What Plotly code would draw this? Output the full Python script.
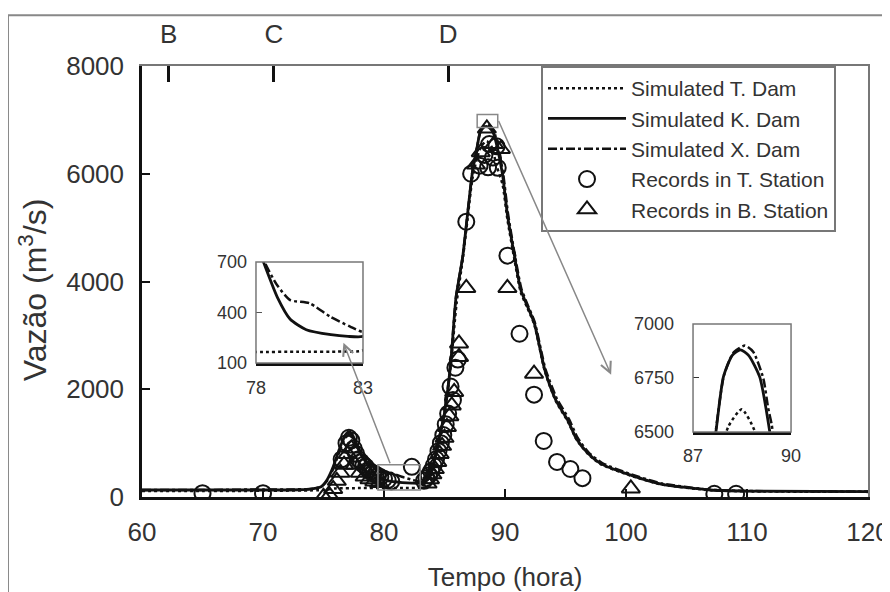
import plotly.graph_objects as go

# ---------------- data ----------------
t_K = [60, 65, 70, 73, 74, 74.8, 75.3, 75.8, 76.3, 76.8, 77.1, 77.4, 77.7, 78.0, 78.35, 79.0, 79.6,
       80.35, 81.5, 82.3, 83.0, 83.5, 83.9, 84.4, 85.0, 85.5, 85.95, 86.5, 86.9, 87.3, 87.7, 87.93,
       88.2, 88.45, 88.7, 89.04, 89.35, 89.8, 90.2, 90.77, 91.3, 91.87, 92.42, 93.3, 94.2, 95.2,
       95.9, 96.85, 97.9, 100.2, 102.9, 107.0, 110.0, 120.0]
q_K = [130, 130, 130, 135, 150, 190, 320, 560, 880, 1150, 1215, 1150, 990, 820, 700, 490, 360,
       298, 268, 258, 258, 300, 440, 930, 1560, 2450, 3700, 4450, 5240, 6020, 6500, 6755,
       6855, 6880, 6855, 6755, 6500, 5980, 5240, 4490, 3850, 3530, 3230, 2350, 1800, 1420,
       1080, 810, 620, 420, 240, 130, 110, 100]

t_X = [60, 65, 70, 72, 74, 74.8, 75.3, 75.8, 76.3, 76.8, 77.2, 77.5, 77.8, 78.1, 78.4, 79.0, 79.6,
       80.5, 81.46, 82.4, 83.0, 83.5, 83.9, 84.4, 85.0, 85.5, 85.95, 86.5, 86.9, 87.3, 87.7, 87.95,
       88.25, 88.59, 88.84, 89.15, 89.3, 89.41, 89.85, 90.25, 90.8, 91.35, 91.9, 92.45, 93.35, 94.3,
       95.3, 96.0, 96.9, 98.0, 100.3, 103.0, 107.0, 110.0, 120.0]
q_X = [130, 130, 140, 140, 150, 190, 300, 520, 830, 1100, 1160, 1100, 960, 820, 700, 560, 474,
       455, 376, 316, 285, 310, 450, 940, 1570, 2460, 3710, 4460, 5250, 6030, 6510, 6765,
       6870, 6900, 6872, 6749, 6610, 6532, 6000, 5260, 4510, 3870, 3550, 3250, 2370, 1820,
       1440, 1100, 830, 635, 430, 250, 135, 112, 100]

t_T = [60, 65, 70, 75, 76, 78, 80, 82, 83.0, 83.4, 83.9, 84.4, 85.0, 85.5, 86.0, 86.5, 86.9, 87.3,
       87.7, 88.08, 88.49, 88.9, 89.3, 89.8, 90.2, 90.77, 91.3, 91.87, 92.42, 93.3, 94.2, 95.2, 95.9,
       96.85, 97.9, 100.2, 102.9, 107.0, 110.0, 120.0]
q_T = [110, 110, 115, 130, 160, 165, 167, 168, 175, 260, 420, 900, 1520, 2400, 3600, 4400, 5150, 5900,
       6300, 6525, 6605, 6500, 6150, 5800, 5150, 4420, 3800, 3500, 3200, 2330, 1780, 1400, 1070,
       800, 610, 410, 235, 125, 105, 95]

t_Tst = [65.0, 70.0,
         76.5, 76.9, 77.1, 77.3, 77.5, 77.7, 77.9, 78.1, 78.3, 78.5, 78.7, 78.9, 79.1, 79.3,
         79.5, 79.7, 80.0, 80.3, 80.6, 82.3,
         83.3, 83.5, 83.7, 83.9, 84.1, 84.3, 84.5, 84.7, 84.9, 85.1, 85.3, 85.5, 85.7, 85.9, 86.1,
         86.8, 87.2, 87.9, 88.3, 88.7, 88.6, 89.0, 89.3, 89.4,
         90.2, 91.2, 92.4, 93.2, 94.3, 95.4, 96.4, 107.3, 109.1]
q_Tst = [70, 70,
         700, 1000, 1100, 1050, 900, 800, 700, 650, 600, 560, 500, 470, 440, 420,
         390, 370, 340, 310, 290, 560,
         300, 350, 400, 480, 580, 700, 850, 1000, 1150, 1350, 1550, 2050, 1800, 2400, 2550,
         5110, 6000, 6150, 6350, 6550, 6120, 6300, 6510, 6110,
         4480, 3030, 1900, 1040, 650, 520, 350, 60, 60]

t_Bst = [75.0, 75.5, 75.8, 76.1, 76.4, 76.7, 77.0, 77.3, 77.6, 78.0, 78.4, 78.8, 79.2, 79.6,
         83.6, 83.8, 84.0, 84.2, 84.4, 84.6, 84.8, 85.0, 85.2, 85.4, 85.6, 85.8, 86.2, 86.2, 86.8,
         87.6, 88.0, 88.5, 89.1, 89.66, 90.2, 92.4, 100.4]
q_Bst = [0, 30, 150, 300, 450, 600, 800, 900, 600, 450, 380, 330, 290, 260,
         250, 330, 420, 520, 650, 800, 950, 1100, 1300, 1500, 1700, 1950, 2600, 2850, 3880,
         6170, 6400, 6840, 6550, 6460, 3880, 2290, 160]

x_ticks = [60, 70, 80, 90, 100, 110, 120]
y_ticks = [0, 2000, 4000, 6000, 8000]
top_ticks = [62.2, 70.9, 85.3]
top_labels = ["B", "C", "D"]

FONT = "Liberation Sans, Arial, sans-serif"
INK = "#111111"
TXT = "#333333"

fig = go.Figure()

series = [
    ("Simulated T. Dam", t_T, q_T, "dot", 2.5),
    ("Simulated K. Dam", t_K, q_K, "solid", 2.8),
    ("Simulated X. Dam", t_X, q_X, "dashdot", 2.5),
]
for ax_x, ax_y, show in [("x", "y", True), ("x3", "y3", False), ("x4", "y4", False)]:
    for name, tx, qy, dash, w in series:
        fig.add_trace(go.Scatter(
            x=tx, y=qy, mode="lines", name=name, showlegend=show,
            line=dict(color=INK, width=w, dash=dash, shape="spline", smoothing=0.6),
            xaxis=ax_x, yaxis=ax_y, hoverinfo="skip"))
    if show:
        fig.add_trace(go.Scatter(
            x=t_Tst, y=q_Tst, mode="markers", name="Records in T. Station",
            marker=dict(symbol="circle-open", size=16, color=INK, line=dict(width=2, color=INK))))
        fig.add_trace(go.Scatter(
            x=t_Bst, y=q_Bst, mode="markers", name="Records in B. Station",
            marker=dict(symbol="triangle-up-open", size=16, color=INK, line=dict(width=2, color=INK))))

# empty trace so that the top (B, C, D) axis and right frame axis are drawn
fig.add_trace(go.Scatter(x=[None], y=[None], xaxis="x2", yaxis="y2", showlegend=False,
                         hoverinfo="skip"))

tickfont = dict(family=FONT, size=26, color=TXT)
insetfont = dict(family=FONT, size=18, color=TXT)
common = dict(showgrid=False, zeroline=False, automargin=False)

fig.update_layout(
    width=882, height=584,
    margin=dict(l=134, r=22, t=58, b=95),
    paper_bgcolor="white", plot_bgcolor="white",
    font=dict(family=FONT, color=TXT),
    xaxis=dict(domain=[0, 1], range=[60, 120], tickvals=x_ticks, ticks="inside", ticklen=8,
               tickwidth=2, tickcolor=INK, showline=True, linecolor=INK, linewidth=2.5,
               tickfont=tickfont, anchor="y", ticklabelstandoff=10,
               title=dict(text="Tempo (hora)", font=dict(family=FONT, size=26, color=TXT),
                          standoff=26), **common),
    yaxis=dict(domain=[0, 1], range=[0, 8000], tickvals=y_ticks, ticks="inside", ticklen=8,
               tickwidth=2, tickcolor=INK, showline=True, linecolor=INK, linewidth=2.5,
               tickfont=tickfont, anchor="x", ticklabelstandoff=10, **common),
    xaxis2=dict(overlaying="x", side="top", anchor="y", range=[60, 120], tickvals=top_ticks,
                ticktext=top_labels, ticks="inside", ticklen=16, tickwidth=2.5, tickcolor=INK,
                showline=True, linecolor="#777777", linewidth=2,
                tickfont=tickfont, ticklabelstandoff=11, **common),
    yaxis2=dict(overlaying="y", side="right", anchor="x", range=[0, 8000], showline=True,
                linecolor="#777777", linewidth=2, showticklabels=False, ticks="", **common),
    xaxis3=dict(domain=[0.157, 0.3044], anchor="y3", range=[78, 83], tickvals=[78, 83],
                ticks="", showline=True, linecolor=INK, linewidth=3,
                tickfont=insetfont, ticklabelstandoff=6, **common),
    yaxis3=dict(domain=[0.3109, 0.5452], anchor="x3", range=[100, 700], tickvals=[100, 400, 700],
                ticks="inside", ticklen=6, tickcolor="#555555", showline=False,
                tickfont=insetfont, ticklabelstandoff=8, **common),
    xaxis4=dict(domain=[0.759, 0.894], anchor="y4", range=[87, 90], tickvals=[87, 90],
                ticks="", showline=True, linecolor=INK, linewidth=3,
                tickfont=insetfont, ticklabelstandoff=5, **common),
    yaxis4=dict(domain=[0.1508, 0.4014], anchor="x4", range=[6500, 7000], tickvals=[6500, 6750, 7000],
                ticks="inside", ticklen=6, tickcolor="#333333", showline=False,
                tickfont=insetfont, ticklabelstandoff=18, **common),
    legend=dict(x=0.5496, y=1.0, xanchor="left", yanchor="top", bgcolor="white",
                bordercolor="#777777", borderwidth=2, itemwidth=78,
                font=dict(family=FONT, size=21, color=TXT), tracegroupgap=0),
    showlegend=True,
)

shapes = [
    # outer frame
    dict(type="rect", xref="paper", yref="paper", x0=-0.1846, x1=1.06, y0=-0.26, y1=1.118,
         line=dict(color="#888888", width=2), layer="below"),
    # inset boxes
    dict(type="rect", xref="x3 domain", yref="y3 domain", x0=0, x1=1, y0=0, y1=1,
         line=dict(color="#777777", width=1.5)),
    dict(type="rect", xref="x4 domain", yref="y4 domain", x0=0, x1=1, y0=0, y1=1,
         line=dict(color="#777777", width=1.5)),
    # zoom rectangles in the main plot
    dict(type="rect", xref="x", yref="y", x0=79.5, x1=83.0, y0=130, y1=600,
         line=dict(color="#888888", width=1.5)),
    dict(type="rect", xref="x", yref="y", x0=87.7, x1=89.4, y0=6860, y1=7100,
         line=dict(color="#888888", width=1.5)),
]
fig.update_layout(shapes=shapes)

# y-axis title
fig.add_annotation(text="Vazão (m<sup>3</sup>/s)", xref="paper", yref="paper", x=-0.150, y=0.48,
                   textangle=-90, showarrow=False, xanchor="center", yanchor="middle",
                   font=dict(family=FONT, size=32, color=TXT))

fig.add_annotation(x=76.65, y=2863, ax=80.55, ay=600, xref="x", yref="y", axref="x", ayref="y",
                   showarrow=True, arrowhead=5, arrowsize=1.4, arrowwidth=1.5, arrowcolor="#888888", text="")
fig.add_annotation(x=98.77, y=2268, ax=89.42, ay=7008, xref="x", yref="y", axref="x", ayref="y",
                   showarrow=True, arrowhead=5, arrowsize=1.4, arrowwidth=1.5, arrowcolor="#888888", text="")

fig.write_html("out.html")
